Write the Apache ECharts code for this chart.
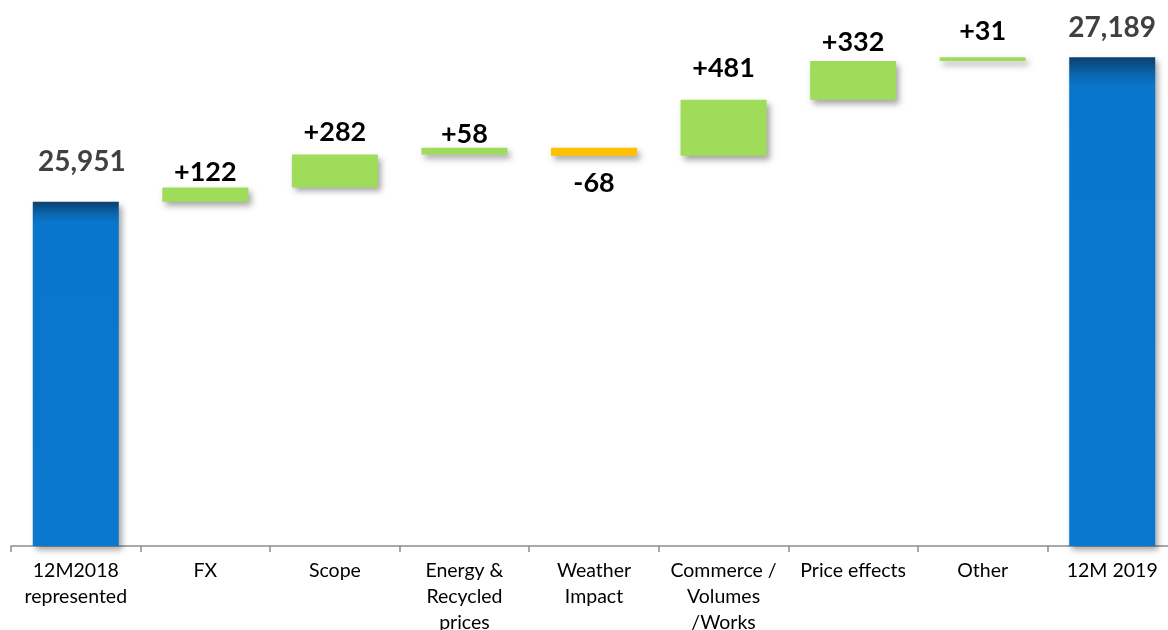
<!DOCTYPE html>
<html>
<head>
<meta charset="utf-8">
<style>
  html, body { margin: 0; padding: 0; background: #fff; }
  #chart { width: 1168px; height: 630px; }
</style>
<script src="https://cdn.jsdelivr.net/npm/echarts@6/dist/echarts.min.js"></script>
</head>
<body>
<div id="chart"></div>
<script>
const categories = [
  '12M2018\nrepresented', 'FX', 'Scope', 'Energy &\nRecycled\nprices',
  'Weather\nImpact', 'Commerce /\nVolumes\n/Works', 'Price effects', 'Other', '12M 2019'
]
const startTotal = 25951
const endTotal = 27189
const deltas = [122, 282, 58, -68, 481, 332, 31]

// build invisible base + visible part of the waterfall
const baseData = [0]
const barData = [startTotal]
const labelText = [startTotal.toLocaleString('en-US')]
let running = startTotal
deltas.forEach(d => {
  if (d >= 0) {
    baseData.push(running)
    barData.push(d)
  } else {
    baseData.push(running + d)
    barData.push(-d)
  }
  labelText.push((d > 0 ? '+' : '') + d)
  running += d
})
baseData.push(0)
barData.push(endTotal)
labelText.push(endTotal.toLocaleString('en-US'))

// label gap above (or below) each bar
const labelGap = [26, 2, 9, 0, 14, 18, 5, 12, 15]

const blueFill = new echarts.graphic.LinearGradient(0, 0, 0, 1, [
  { offset: 0, color: '#0d3f6c' },
  { offset: 0.035, color: '#0a66ae' },
  { offset: 0.06, color: '#0a76cb' },
  { offset: 1, color: '#0a78ce' }
])

const chart = echarts.init(document.getElementById('chart'))

const visible = barData.map((v, i) => {
  const isTotal = i === 0 || i === barData.length - 1
  const isNeg = !isTotal && deltas[i - 1] < 0
  return {
    value: v,
    itemStyle: {
      color: isTotal ? blueFill : (isNeg ? '#ffc000' : '#9fdc5a'),
      shadowBlur: 6,
      shadowOffsetX: 3,
      shadowOffsetY: 4,
      shadowColor: 'rgba(0,0,0,0.35)'
    },
    label: {
      show: true,
      position: isNeg ? 'bottom' : 'top',
      distance: labelGap[i],
      offset: i === 0 ? [6, 0] : [0, 0],
      formatter: labelText[i],
      color: isTotal ? '#404040' : '#000',
      fontFamily: 'Lato',
      fontWeight: 'bold',
      fontSize: isTotal ? 28 : 27,
      letterSpacing: isTotal ? 1 : 0
    }
  }
})

const option = {
  animation: false,
  grid: {
    left: 11,
    right: -9,
    top: 21,
    bottom: 84,
    outerBoundsMode: 'none'
  },
  xAxis: {
    type: 'category',
    data: categories,
    axisLine: {
      lineStyle: { color: '#8c8c8c', width: 1.5 }
    },
    axisTick: {
      show: true,
      length: 6,
      lineStyle: { color: '#8c8c8c', width: 1.5 }
    },
    axisLabel: {
      interval: 0,
      margin: 12,
      fontFamily: 'Lato',
      fontSize: 19.5,
      lineHeight: 26,
      color: '#000'
    }
  },
  yAxis: {
    type: 'value',
    show: false,
    min: 23000,
    max: 27500,
    splitLine: { show: false }
  },
  series: [
    {
      name: 'base',
      type: 'bar',
      stack: 'wf',
      barWidth: 86,
      silent: true,
      itemStyle: { color: 'transparent' },
      data: baseData
    },
    {
      name: 'value',
      type: 'bar',
      stack: 'wf',
      barWidth: 86,
      data: visible
    }
  ]
}

chart.setOption(option)
</script>
</body>
</html>
